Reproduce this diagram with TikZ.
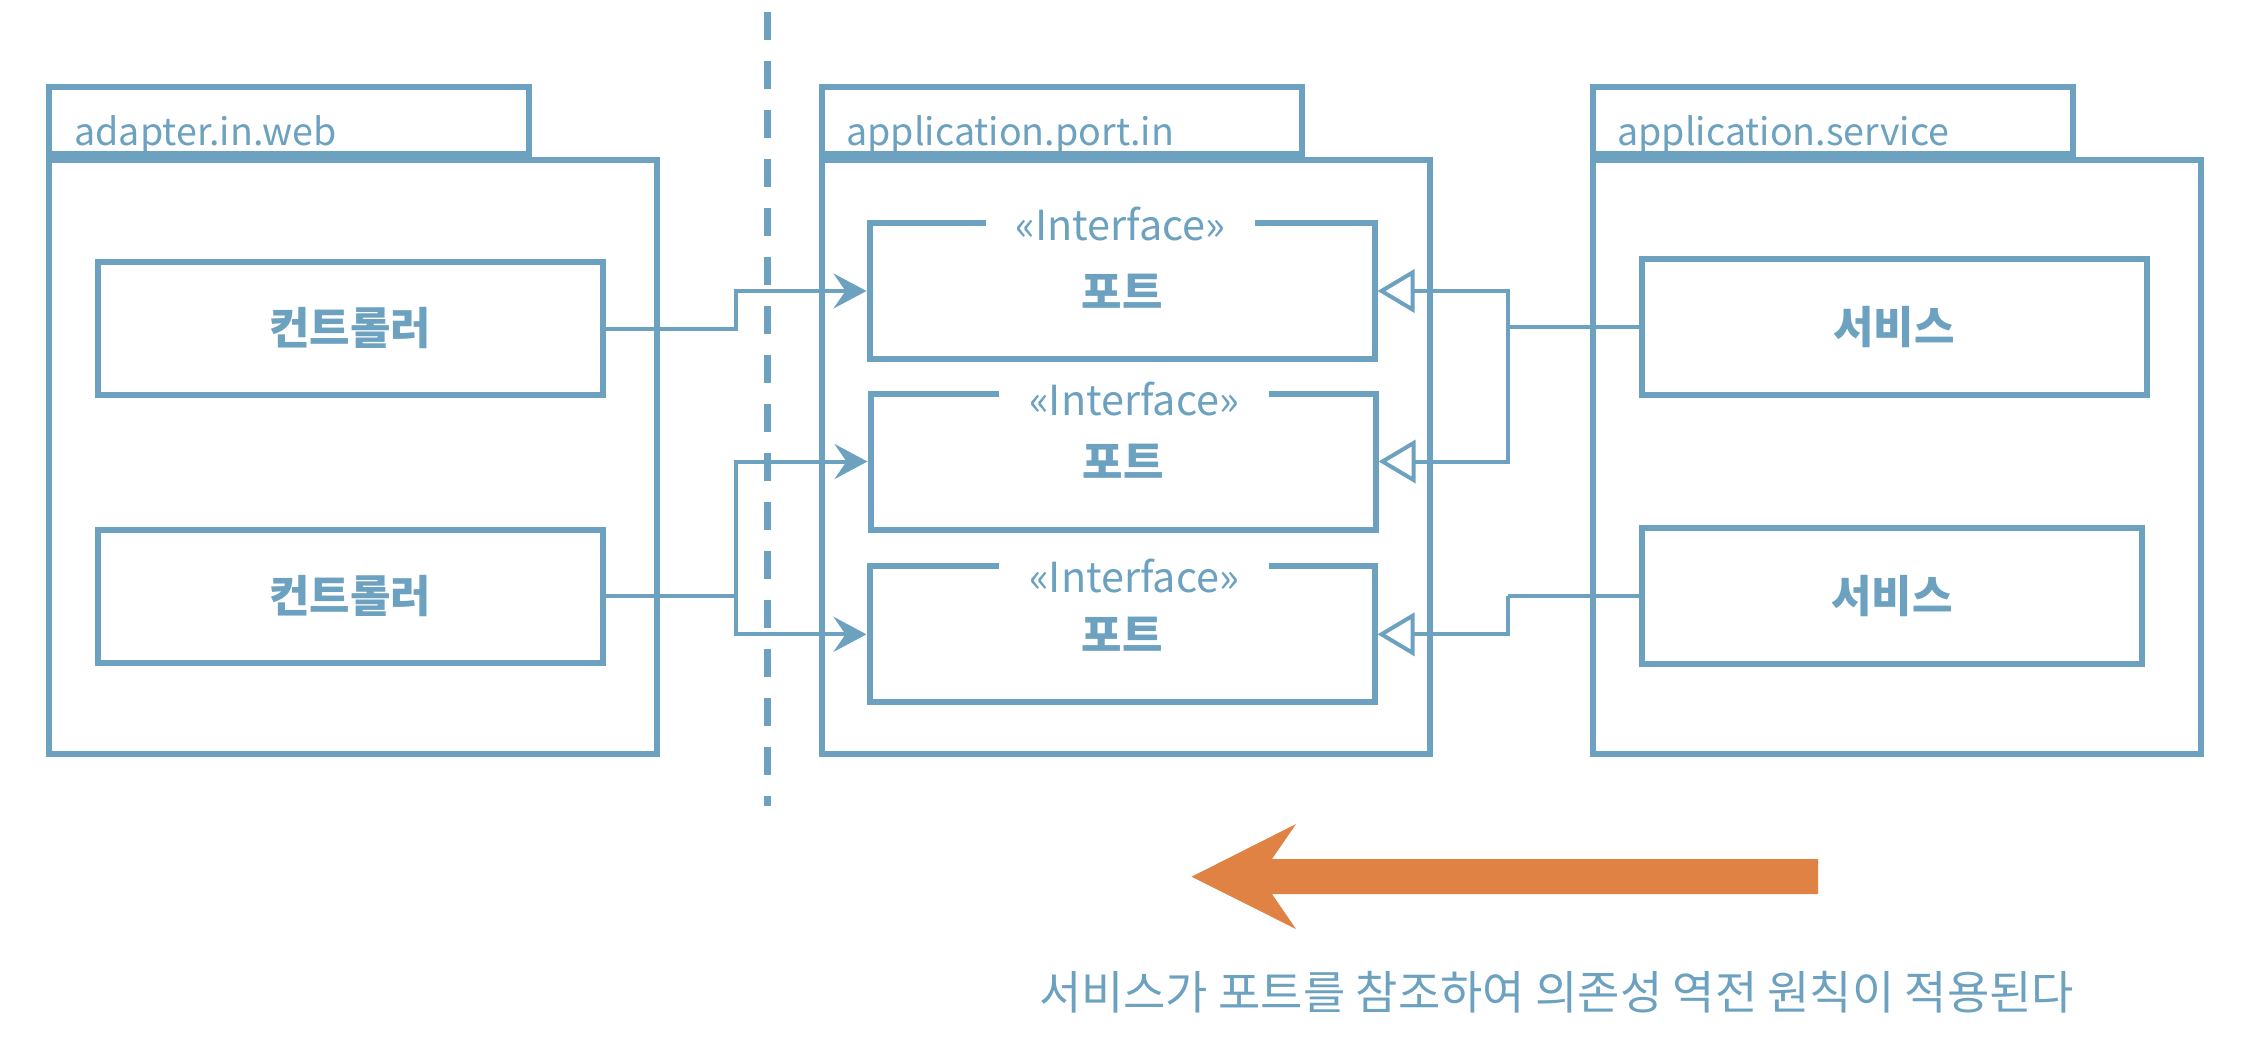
\documentclass[tikz,border=0pt]{standalone}
\usepackage{fontspec}
\setmainfont{Noto Sans CJK KR}
\usetikzlibrary{arrows.meta, positioning}
\definecolor{hexblue}{RGB}{108,161,192}
\definecolor{flowaccent}{RGB}{223,130,68}
\tikzset{
  pkgbody/.style={draw=hexblue, line width=3pt, minimum width=304pt, minimum height=297pt, inner sep=0pt},
  pkgtab/.style={draw=hexblue, line width=3pt, minimum width=240pt, minimum height=33.5pt, inner sep=0pt, anchor=south west},
  pkgname/.style={text=hexblue, font=\fontsize{18.8}{22}\selectfont, anchor=base west, inner sep=0pt},
  classbox/.style={draw=hexblue, fill=white, line width=3pt, minimum width=252.5pt, minimum height=68pt, inner sep=0pt, text=hexblue, font=\bfseries\fontsize{22}{26}\selectfont},
  stereo/.style={fill=white, text=hexblue, font=\fontsize{20.7}{24}\selectfont, inner xsep=15pt, inner ysep=2pt, anchor=base},
  conn/.style={draw=hexblue, line width=2pt},
  uses/.style={conn, -{Stealth[length=16.5pt, width=17.5pt, inset=6pt]}},
  realizes/.style={conn, -{Triangle[length=18.5pt, width=21.5pt, fill=white]}},
}

\begin{document}
\begin{tikzpicture}[x=0.5pt, y=-0.5pt]
    \useasboundingbox (0,0) rectangle (2252,1062);
    % packages
    \node[pkgbody] (webpkg) at (353.25,457.3) {};
    \node[pkgbody] (portpkg) at (1125.5,457.3) {};
    \node[pkgbody] (svcpkg) at (1897.25,457.3) {};
    \node[pkgtab] (webtab) at (webpkg.north west) {};
    \node[pkgtab] (porttab) at (portpkg.north west) {};
    \node[pkgtab] (svctab) at (svcpkg.north west) {};
    \node[pkgname] (webname) at (74,145) {adapter.in.web};
    \node[pkgname] (portname) at (846,145) {application.port.in};
    \node[pkgname] (svcname) at (1617,145) {application.service};
    % boundary
    \draw [hexblue, line width=3.5pt, dash pattern=on 14pt off 10.5pt] (767.5,11.7) -- (767.5,805.7);
    % classes
    \node[classbox, minimum height=66.5pt] (ctrl1) at (350,328.5) {컨트롤러};
    \node[classbox, minimum height=66.5pt] (ctrl2) at (350,596) {컨트롤러};
    \node[classbox] (port1) at (1122,291) {포트};
    \node[classbox] (port2) at (1123,461.5) {포트};
    \node[classbox] (port3) at (1122,634.3) {포트};
    \node[classbox] (svc1) at (1894,326.6) {서비스};
    \node[classbox, minimum width=250pt] (svc2) at (1892,596.4) {서비스};
    \node[stereo] (st1) at (1120.5,240.7) {«Interface»};
    \node[stereo] (st2) at (1134,415) {«Interface»};
    \node[stereo] (st3) at (1134,592) {«Interface»};
    % connectors
    \coordinate (webbus) at (736,0);
    \coordinate (svcbus) at (1508,0);
    \draw [uses] (ctrl1.east) -- (ctrl1.east -| webbus) |- (port1.west);
    \draw [conn] (ctrl2.east) -- (ctrl2.east -| webbus) coordinate (wsplit);
    \draw [uses] (wsplit) |- (port2.west);
    \draw [uses] (wsplit) |- (port3.west);
    \draw [conn] (svc1.west) -- (svc1.west -| svcbus) coordinate (s1split);
    \draw [realizes] (s1split) |- (port1.east);
    \draw [realizes] (s1split) |- (port2.east);
    \draw [conn] (svc2.west) -- (svc2.west -| svcbus) coordinate (s2split);
    \draw [realizes] (s2split) |- (port3.east);
    % dependency direction
    \fill [flowaccent] (1818,859) -- (1272,859) -- (1296,824) -- (1191.5,876.7) -- (1296,929) -- (1272,894) -- (1818,894) -- cycle;
    \node[text=hexblue, font=\fontsize{23}{27}\selectfont] (caption) at (1556.6,992) {서비스가 포트를 참조하여 의존성 역전 원칙이 적용된다};
\end{tikzpicture}
\end{document}
